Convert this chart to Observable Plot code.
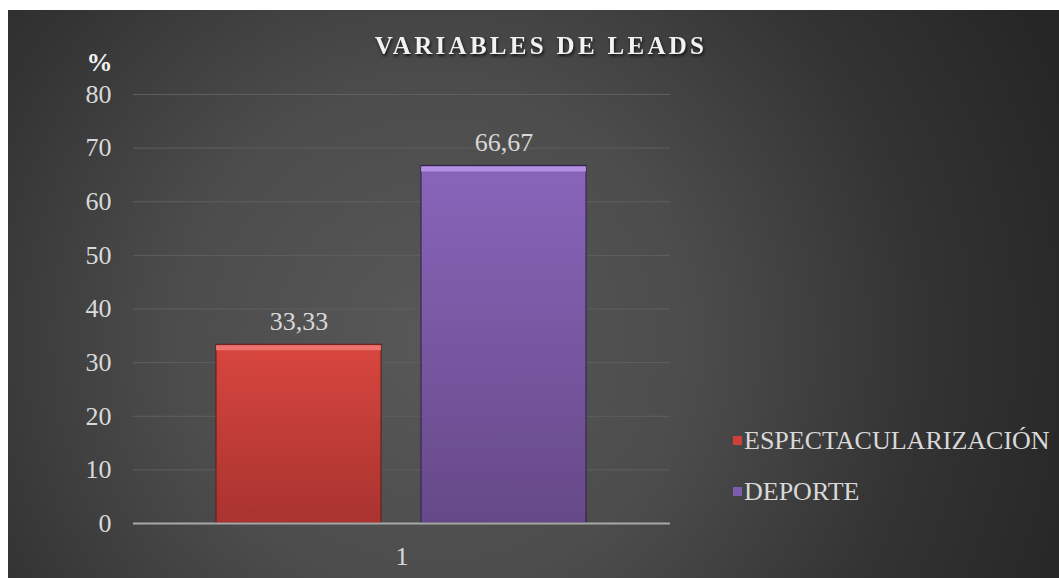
<!DOCTYPE html>
<html>
<head>
<meta charset="utf-8">
<script src="https://cdn.jsdelivr.net/npm/d3@7"></script>
<script src="https://cdn.jsdelivr.net/npm/@observablehq/plot@0.6"></script>
<style>
  html, body { margin: 0; padding: 0; background: #ffffff; }
  #wrap { position: relative; width: 1059px; height: 578px; overflow: hidden; }
  #chart { position: absolute; left: 8px; top: 10px; }
  #chart svg { display: block; }
  #legend { position: absolute; left: 733px; top: 415px; }
  #legend, #legend * { font-family: "Liberation Serif", "Times New Roman", serif !important; font-size: 26px !important; color: #d9d9d9 !important; }
  #legend > div, #legend div { margin: 0 !important; padding: 0 !important; line-height: 51px !important; min-height: 0 !important; }
  #legend svg { margin-right: 2px !important; }
</style>
</head>
<body>
<div id="wrap">
  <div id="chart"></div>
  <div id="legend"></div>
</div>
<script>
// ---- data ----
const groups = ["1"];
const series = ["ESPECTACULARIZACIÓN", "DEPORTE"];
const values = [33.33, 66.67];
const yTicks = [0, 10, 20, 30, 40, 50, 60, 70, 80];
const seriesColors = ["#d0403b", "#7d5cae"];
const title = "VARIABLES DE LEADS";
const yUnit = "%";

// gradient stops per series (top, bottom, bevel highlight, edge)
const gradTop = ["#d8463f", "#8965ba"];
const gradBottom = ["#a9332f", "#664988"];
const bevel = ["#ef7571", "#b793e6"];
const edge = ["#5e1a18", "#2e1f4a"];

const table = series.map((s, i) => ({group: groups[0], series: s, value: values[i], idx: i}));
const fmt = v => v.toFixed(2).replace(".", ",");

const defsMark = () => {
  const defs = d3.create("svg:defs");
  series.forEach((s, i) => {
    const g = defs.append("linearGradient").attr("id", "bar" + i)
      .attr("x1", 0).attr("y1", 0).attr("x2", 0).attr("y2", 1);
    g.append("stop").attr("offset", "0%").attr("stop-color", gradTop[i]);
    g.append("stop").attr("offset", "100%").attr("stop-color", gradBottom[i]);
  });
  return defs.node();
};

const fontFamily = "'Liberation Serif', 'Times New Roman', serif";

const plot = Plot.plot({
  width: 1051,
  height: 568,
  marginLeft: 125,
  marginRight: 389,
  marginTop: 84,
  marginBottom: 55,
  style: {
    background: "radial-gradient(circle 680px at 425px 330px, #585858 0%, #4c4c4c 38%, #333333 72%, #262626 100%)",
    fontFamily: fontFamily,
    fontSize: "26px",
    color: "#d9d9d9",
    overflow: "visible"
  },
  fx: {domain: groups, padding: 0, axis: "bottom", tickSize: 0, tickPadding: 23, label: null},
  x: {domain: series, paddingInner: 0.195, paddingOuter: 0.407, axis: null},
  y: {domain: [0, 80], ticks: yTicks, tickSize: 0, tickPadding: 22, label: null, tickFormat: d => String(d)},
  marks: [
    defsMark,
    Plot.ruleY(yTicks.filter(d => d > 0), {stroke: "#5f5f5f", strokeWidth: 1}),
    ...series.map((s, i) => Plot.barY(table.filter(d => d.idx === i), {
      fx: "group", x: "series", y: "value",
      fill: `url(#bar${i})`, stroke: edge[i], strokeWidth: 1
    })),
    ...series.map((s, i) => Plot.tickY(table.filter(d => d.idx === i), {
      fx: "group", x: "series", y: "value",
      stroke: bevel[i], strokeWidth: 5, dy: 3, strokeOpacity: 0.9
    })),
    Plot.ruleY([0], {stroke: "#a8a8a8", strokeWidth: 2}),
    Plot.text(table, {
      fx: "group", x: "series", y: "value", text: d => fmt(d.value),
      lineAnchor: "bottom", dy: -15, fill: "#d9d9d9", fontSize: 26
    }),
    Plot.text([title], {
      frameAnchor: "top", lineAnchor: "middle", dx: 139, dy: -49,
      fill: "#f2f2f2", fontSize: 25, fontWeight: "bold"
    }),
    Plot.text([yUnit], {
      frameAnchor: "top-left", textAnchor: "end", lineAnchor: "middle", dx: -21, dy: -32,
      fill: "#f2f2f2", fontSize: 26, fontWeight: "bold"
    })
  ]
});

d3.select(plot).selectAll("text")
  .filter(function() { return this.textContent === title; })
  .style("letter-spacing", "3.3px")
  .style("filter", "drop-shadow(1px 2px 1.5px rgba(0,0,0,0.75))");

document.getElementById("chart").appendChild(plot);

const legend = Plot.legend({
  color: {type: "ordinal", domain: series, range: seriesColors},
  legend: "swatches",
  columns: 1,
  swatchSize: 9
});
document.getElementById("legend").appendChild(legend);
</script>
</body>
</html>
